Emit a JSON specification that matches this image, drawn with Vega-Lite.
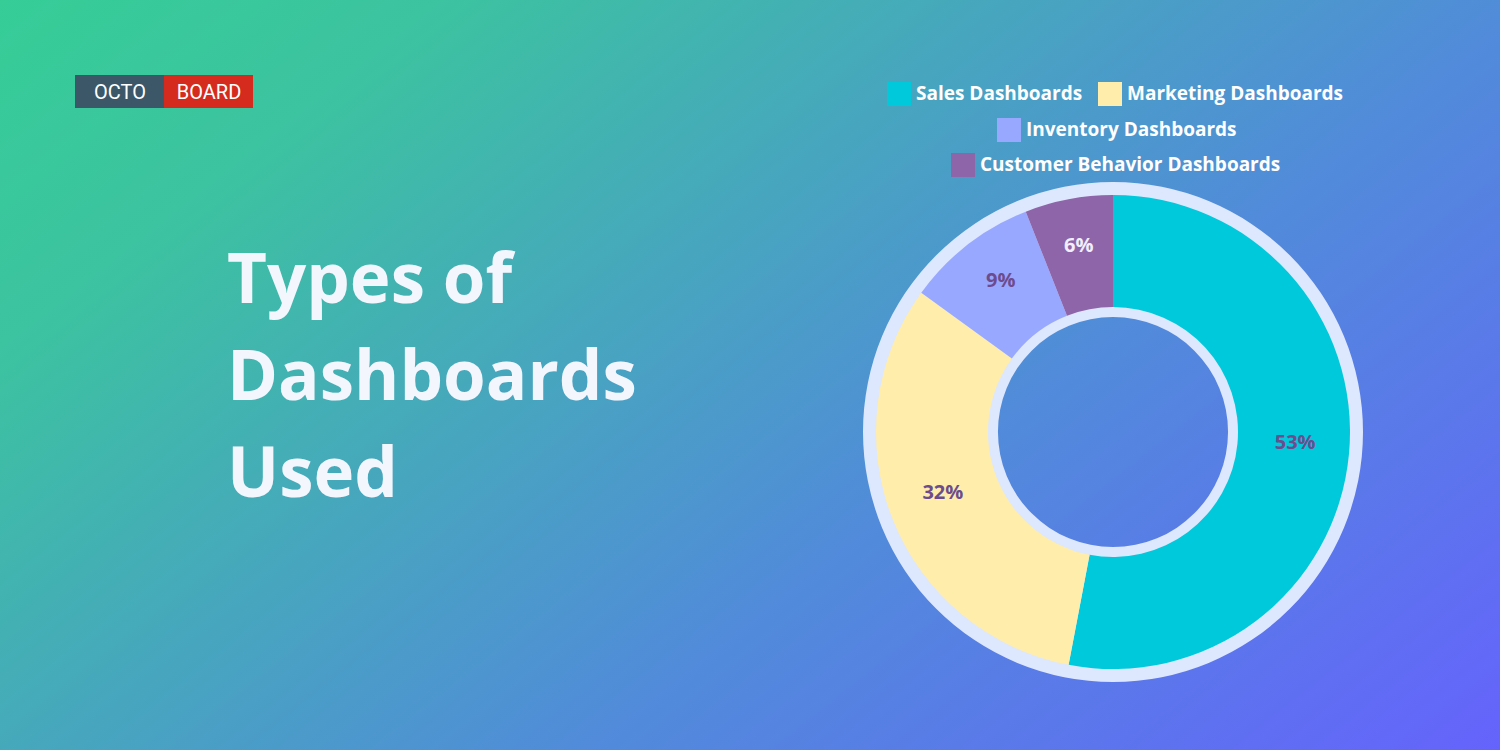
{
  "$schema": "https://vega.github.io/schema/vega-lite/v6.json",
  "width": 1500,
  "height": 750,
  "autosize": {"type": "fit", "contains": "padding"},
  "padding": 0,
  "background": "#4a9fcc",
  "config": {
    "view": {"stroke": null},
    "legend": {
      "symbolType": "square",
      "symbolSize": 576,
      "symbolStrokeWidth": 0,
      "symbolOpacity": 1,
      "labelFont": "Open Sans",
      "labelFontSize": 19,
      "labelFontWeight": "bold",
      "labelColor": "#ffffff",
      "labelOffset": 5,
      "columnPadding": 15,
      "padding": 0,
      "labelLimit": 400
    }
  },
  "datasets": {
    "slices": [
      {"type": "Sales Dashboards", "value": 0.53, "order": 1},
      {"type": "Marketing Dashboards", "value": 0.32, "order": 2},
      {"type": "Inventory Dashboards", "value": 0.09, "order": 3},
      {"type": "Customer Behavior Dashboards", "value": 0.06, "order": 4}
    ]
  },
  "layer": [
    {
      "data": {"values": [{}]},
      "mark": {
        "type": "rect",
        "x": 0, "x2": {"expr": "width"}, "y": 0, "y2": {"expr": "height"},
        "color": {
          "gradient": "linear",
          "x1": 0, "y1": 0, "x2": 1.166, "y2": 0.739,
          "stops": [
            {"offset": 0, "color": "#36cd97"},
            {"offset": 0.18, "color": "#3cc3a0"},
            {"offset": 0.626, "color": "#518bda"},
            {"offset": 1, "color": "#6563fc"}
          ]
        }
      },
      "encoding": {}
    },
    {
      "data": {"values": [{}]},
      "mark": {"type": "rect", "x": 75, "x2": 164, "y": 75, "y2": 108, "color": "#3b5768"},
      "encoding": {}
    },
    {
      "data": {"values": [{}]},
      "mark": {"type": "rect", "x": 164, "x2": 253, "y": 75, "y2": 108, "color": "#d52b1f"},
      "encoding": {}
    },
    {
      "data": {"values": [{}]},
      "mark": {"type": "text", "text": "OCTO", "x": 120, "y": 92.5, "align": "center", "baseline": "middle", "font": "Roboto", "fontSize": 20, "letterSpacing": 1.2, "color": "#ffffff"},
      "encoding": {}
    },
    {
      "data": {"values": [{}]},
      "mark": {"type": "text", "text": "BOARD", "x": 209, "y": 92.5, "align": "center", "baseline": "middle", "font": "Roboto", "fontSize": 20, "letterSpacing": 0.8, "color": "#ffffff"},
      "encoding": {}
    },
    {
      "data": {"values": [{}]},
      "mark": {"type": "text", "text": "Types of", "x": 227, "y": 303, "align": "left", "baseline": "alphabetic", "font": "Open Sans", "fontSize": 69, "fontWeight": "bold", "color": "#f4f6fe"},
      "encoding": {}
    },
    {
      "data": {"values": [{}]},
      "mark": {"type": "text", "text": "Dashboards", "x": 227, "y": 400, "align": "left", "baseline": "alphabetic", "font": "Open Sans", "fontSize": 69, "fontWeight": "bold", "color": "#f4f6fe"},
      "encoding": {}
    },
    {
      "data": {"values": [{}]},
      "mark": {"type": "text", "text": "Used", "x": 227, "y": 497, "align": "left", "baseline": "alphabetic", "font": "Open Sans", "fontSize": 69, "fontWeight": "bold", "color": "#f4f6fe"},
      "encoding": {}
    },
    {
      "data": {"values": [{}]},
      "mark": {"type": "arc", "x": 1113, "y": 432, "radius": 250, "radius2": 115, "color": "#dde7fe"},
      "encoding": {}
    },
    {
      "data": {"name": "slices"},
      "transform": [
        {"window": [{"op": "sum", "field": "value", "as": "end"}], "sort": [{"field": "order"}]},
        {"calculate": "datum.end - datum.value", "as": "start"},
        {"filter": {"field": "type", "oneOf": ["Sales Dashboards", "Marketing Dashboards"]}}
      ],
      "mark": {"type": "arc", "x": 1113, "y": 432, "radius": 237, "radius2": 125},
      "encoding": {
        "theta": {"field": "start", "type": "quantitative", "stack": null, "scale": {"domain": [0, 1]}},
        "theta2": {"field": "end"},
        "color": {
          "field": "type", "type": "nominal",
          "scale": {"domain": ["Sales Dashboards", "Marketing Dashboards"], "range": ["#00c9dc", "#ffedab"]},
          "legend": {"orient": "none", "legendX": 887, "legendY": 82, "direction": "horizontal", "title": null}
        }
      }
    },
    {
      "data": {"name": "slices"},
      "transform": [
        {"window": [{"op": "sum", "field": "value", "as": "end"}], "sort": [{"field": "order"}]},
        {"calculate": "datum.end - datum.value", "as": "start"},
        {"filter": {"field": "type", "oneOf": ["Inventory Dashboards"]}}
      ],
      "mark": {"type": "arc", "x": 1113, "y": 432, "radius": 237, "radius2": 125},
      "encoding": {
        "theta": {"field": "start", "type": "quantitative", "stack": null, "scale": {"domain": [0, 1]}},
        "theta2": {"field": "end"},
        "color": {
          "field": "type", "type": "nominal",
          "scale": {"domain": ["Inventory Dashboards"], "range": ["#99a8ff"]},
          "legend": {"orient": "none", "legendX": 997, "legendY": 118, "direction": "horizontal", "title": null}
        }
      }
    },
    {
      "data": {"name": "slices"},
      "transform": [
        {"window": [{"op": "sum", "field": "value", "as": "end"}], "sort": [{"field": "order"}]},
        {"calculate": "datum.end - datum.value", "as": "start"},
        {"filter": {"field": "type", "oneOf": ["Customer Behavior Dashboards"]}}
      ],
      "mark": {"type": "arc", "x": 1113, "y": 432, "radius": 237, "radius2": 125},
      "encoding": {
        "theta": {"field": "start", "type": "quantitative", "stack": null, "scale": {"domain": [0, 1]}},
        "theta2": {"field": "end"},
        "color": {
          "field": "type", "type": "nominal",
          "scale": {"domain": ["Customer Behavior Dashboards"], "range": ["#8e65a8"]},
          "legend": {"orient": "none", "legendX": 951, "legendY": 153, "direction": "horizontal", "title": null}
        }
      }
    },
    {
      "data": {"name": "slices"},
      "mark": {"type": "text", "x": 1113, "y": 432, "radius": 183, "dy": -6, "font": "Open Sans", "fontSize": 20, "fontWeight": "bold"},
      "encoding": {
        "theta": {"field": "value", "type": "quantitative", "stack": true},
        "order": {"field": "order"},
        "text": {"field": "value", "type": "quantitative", "format": ".0%"},
        "color": {
          "condition": {"test": "datum.type === 'Customer Behavior Dashboards'", "value": "#f1effd"},
          "value": "#6d4c8e"
        }
      }
    }
  ],
  "resolve": {"scale": {"color": "independent", "theta": "shared"}, "legend": {"color": "independent"}}
}
